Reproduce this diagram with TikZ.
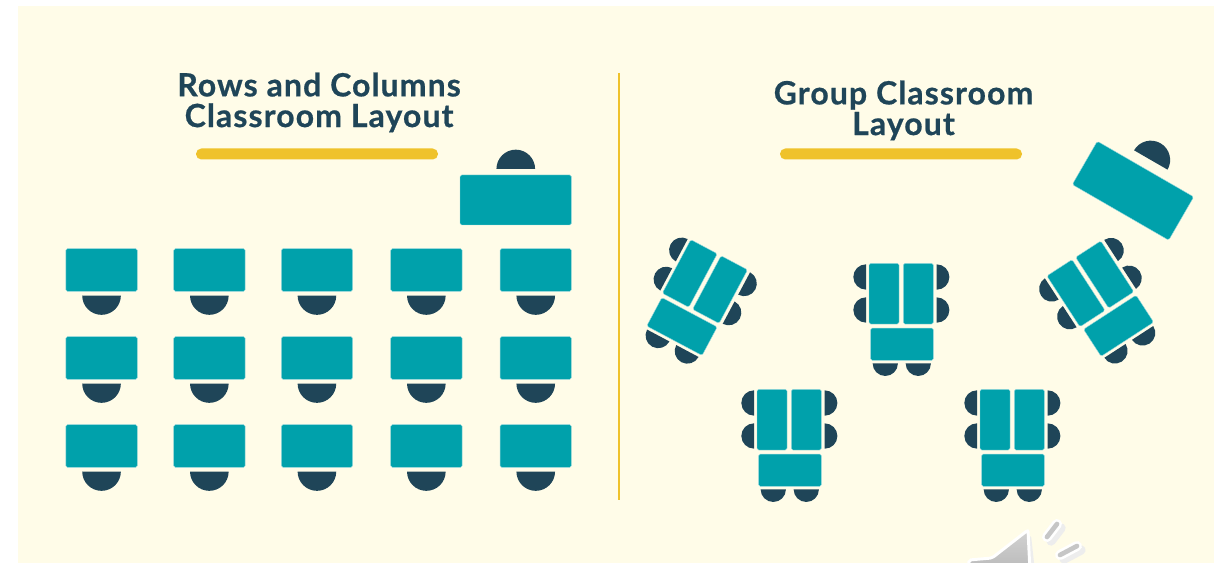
\documentclass[tikz,border=0pt]{standalone}
\usepackage{fontspec}
\setmainfont{Lato}[LetterSpace=3.4,BoldFeatures={FakeBold=0.6}]
\usepackage{xcolor}
\usetikzlibrary{positioning}

\definecolor{creambg}{HTML}{FFFCE8}
\definecolor{deskteal}{HTML}{00A1AB}
\definecolor{seatnavy}{HTML}{1F4558}
\definecolor{baryellow}{HTML}{EFC22B}

\begin{document}
\begin{tikzpicture}[
  x=0.75pt, y=-0.75pt,
  title/.style={font=\fontsize{24}{23}\selectfont\bfseries, text=seatnavy, align=center, inner sep=0pt},
  desk/.style={rectangle, fill=deskteal, draw=white!60!deskteal, line width=0.3pt, rounded corners=1.2pt, inner sep=0pt, transform shape},
  rowdesk/.style={desk, minimum width=53.5pt, minimum height=32pt},
  bigdesk/.style={desk, minimum width=83.5pt, minimum height=37.5pt},
  longdesk/.style={desk, minimum width=22.5pt, minimum height=45.5pt},
  shortdesk/.style={desk, minimum width=47pt, minimum height=24.2pt},
  accent/.style={fill=baryellow, rounded corners=4pt},
  seat/.pic={\fill[seatnavy] (-12.7,0) arc[start angle=180, end angle=360, radius=9.5pt] -- cycle;},
  bigseat/.pic={\fill[seatnavy] (-19.4,0) arc[start angle=180, end angle=360, radius=14.5pt] -- cycle;},
  pod/.pic={
    \node[longdesk] (-a) at (-17,-18.3) {};
    \node[longdesk] (-b) at (17.3,-18.3) {};
    \node[shortdesk] (-c) at (1,32.2) {};
    \path (-35,-35) pic[transform shape, rotate=-90] {seat};
    \path (-35,-2) pic[transform shape, rotate=-90] {seat};
    \path (35.7,-35) pic[transform shape, rotate=90] {seat};
    \path (35.7,-2) pic[transform shape, rotate=90] {seat};
    \path (-15.7,51.3) pic[transform shape] {seat};
    \path (17.3,51.3) pic[transform shape] {seat};
  },
]
  \useasboundingbox (0,0) rectangle (1214,563);
  \fill[creambg] (18,6) rectangle (1214,563);

  % Titles
  \node[title] (lefttitle) at (319,102.5) {Rows and Columns\\Classroom Layout};
  \node[title] (righttitle) at (903.5,110.5) {Group Classroom\\Layout};
  \fill[accent] (196,148.5) rectangle (438,159.5);
  \fill[accent] (780,148.5) rectangle (1022,159.5);
  \draw[baryellow, line width=1.5pt] (619,73) -- (619,500);

  % Rows and columns
  \node[bigdesk] (teacherleft) at (515.7,200) {};
  \path (515.7,169) pic[rotate=180] {bigseat};
  \foreach \dx in {101.6,209.4,317,426.4,535.8} {
    \foreach \dy in {270,358,446} {
      \node[rowdesk] at (\dx,\dy) {};
      \path (\dx,\dy+25.5) pic {bigseat};
    }
  }

  % Group layout
  \begin{scope}[shift={(1133,190.7)}, rotate=-30]
    \node[bigdesk] (teacherright) at (0,0) {};
    \path (0,-35.5) pic[transform shape, rotate=180] {bigseat};
  \end{scope}
  \begin{scope}[shift={(696.2,297.6)}, rotate=-28]
    \pic[transform shape] (podone) {pod};
  \end{scope}
  \begin{scope}[shift={(1100.2,299.3)}, rotate=33]
    \pic[transform shape] (podtwo) {pod};
  \end{scope}
  \pic (podthree) at (901,312) {pod};
  \pic (podfour) at (789,438) {pod};
  \pic (podfive) at (1012,438) {pod};

  % Speaker
  \begin{scope}
    \clip (0,0) rectangle (1214,563);
    \fill[black!7, rounded corners=2pt] (973,572) -- (975,565) -- (997,563) -- (1031,535) -- (1035,572) -- cycle;
    \draw[black!7, line width=7pt, line cap=round] (1061,528) -- (1051,541);
    \draw[black!7, line width=7pt, line cap=round] (1081,550) -- (1064,559);
    \draw[white, line width=2.2pt, top color=gray!35, bottom color=gray!55, rounded corners=1.5pt]
      (968,572) -- (969,560) -- (992,558) -- (1028,530) -- (1030,572) -- cycle;
    \draw[white, line width=7.5pt, line cap=round] (1057,524) -- (1047,537);
    \draw[white, line width=7.5pt, line cap=round] (1077,546) -- (1060,555);
    \draw[gray!45, line width=3.5pt, line cap=round] (1057,524) -- (1047,537);
    \draw[gray!45, line width=3.5pt, line cap=round] (1077,546) -- (1060,555);
  \end{scope}
\end{tikzpicture}
\end{document}
